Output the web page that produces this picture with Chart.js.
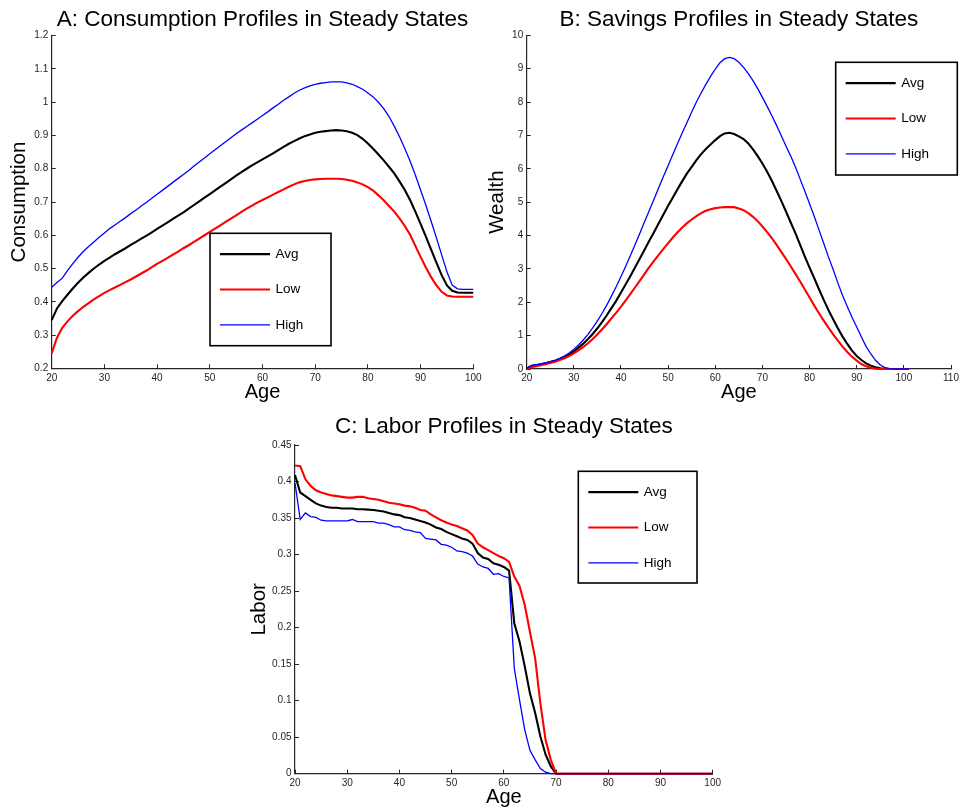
<!DOCTYPE html>
<html>
<head>
<meta charset="utf-8">
<script src="https://cdn.jsdelivr.net/npm/chart.js@4.4.1/dist/chart.umd.min.js"></script>
<style>
  html, body { margin: 0; padding: 0; background: #fff; }
  body { width: 962px; height: 812px; position: relative; overflow: hidden; }
  canvas { position: absolute; }
  #cA { left: 0px; top: 0px; }
  #cB { left: 480px; top: 0px; }
  #cC { left: 240px; top: 405px; }
</style>
</head>
<body>
<canvas id="cA" width="490" height="405"></canvas>
<canvas id="cB" width="482" height="405"></canvas>
<canvas id="cC" width="500" height="407"></canvas>
<script>
// ---------- data ----------
const seriesLabels = ['Avg', 'Low', 'High'];

const agesAC = [20,21,22,23,24,25,26,27,28,29,30,31,32,33,34,35,36,37,38,39,40,41,42,43,44,45,46,47,48,49,50,51,52,53,54,55,56,57,58,59,60,61,62,63,64,65,66,67,68,69,70,71,72,73,74,75,76,77,78,79,80,81,82,83,84,85,86,87,88,89,90,91,92,93,94,95,96,97,98,99,100];
const agesB = [20,21,22,23,24,25,26,27,28,29,30,31,32,33,34,35,36,37,38,39,40,41,42,43,44,45,46,47,48,49,50,51,52,53,54,55,56,57,58,59,60,61,62,63,64,65,66,67,68,69,70,71,72,73,74,75,76,77,78,79,80,81,82,83,84,85,86,87,88,89,90,91,92,93,94,95,96,97,98,99,100,101];

// Panel A: consumption
const consAvg = [
  0.345,0.380,0.402,0.421,0.440,0.457,0.473,0.487,0.500,0.512,
  0.523,0.533,0.543,0.552,0.561,0.571,0.580,0.590,0.599,0.609,
  0.619,0.629,0.639,0.649,0.659,0.669,0.680,0.691,0.702,0.713,
  0.724,0.735,0.746,0.757,0.768,0.779,0.790,0.800,0.810,0.819,
  0.828,0.837,0.846,0.856,0.866,0.875,0.883,0.891,0.898,0.903,
  0.908,0.911,0.913,0.915,0.916,0.915,0.913,0.908,0.901,0.890,
  0.876,0.860,0.843,0.825,0.806,0.786,0.762,0.736,0.706,0.671,
  0.634,0.596,0.557,0.518,0.480,0.449,0.433,0.428,0.427,0.427,0.427];
const consLow = [
  0.245,0.292,0.322,0.341,0.358,0.372,0.385,0.396,0.407,0.417,
  0.427,0.435,0.443,0.451,0.459,0.467,0.476,0.485,0.494,0.504,
  0.514,0.523,0.532,0.542,0.551,0.561,0.570,0.580,0.590,0.600,
  0.610,0.620,0.630,0.640,0.650,0.660,0.670,0.680,0.689,0.698,
  0.706,0.714,0.722,0.730,0.738,0.746,0.753,0.759,0.763,0.766,
  0.768,0.769,0.770,0.770,0.770,0.769,0.767,0.764,0.759,0.753,
  0.745,0.734,0.720,0.705,0.688,0.671,0.651,0.628,0.602,0.568,
  0.535,0.503,0.474,0.449,0.430,0.419,0.416,0.415,0.415,0.415,0.415];
const consHigh = [
  0.444,0.458,0.471,0.494,0.515,0.534,0.551,0.566,0.580,0.594,
  0.607,0.620,0.631,0.642,0.653,0.665,0.676,0.688,0.699,0.711,
  0.723,0.735,0.747,0.759,0.771,0.783,0.795,0.808,0.820,0.832,
  0.845,0.857,0.869,0.881,0.893,0.905,0.916,0.927,0.938,0.949,
  0.960,0.971,0.983,0.994,1.006,1.016,1.027,1.036,1.043,1.049,
  1.054,1.057,1.059,1.061,1.061,1.061,1.058,1.054,1.047,1.039,
  1.028,1.016,1.000,0.981,0.957,0.928,0.896,0.861,0.823,0.781,
  0.736,0.690,0.642,0.592,0.541,0.490,0.450,0.439,0.437,0.437,0.437];

// Panel B: wealth
const wealthAvg = [
  0.02,0.09,0.11,0.14,0.17,0.21,0.25,0.30,0.36,0.43,
  0.53,0.64,0.76,0.90,1.05,1.22,1.41,1.61,1.83,2.05,
  2.29,2.54,2.79,3.05,3.31,3.57,3.84,4.10,4.37,4.63,
  4.89,5.14,5.39,5.63,5.86,6.06,6.26,6.44,6.59,6.73,
  6.86,6.98,7.06,7.08,7.04,6.97,6.89,6.76,6.58,6.38,
  6.16,5.91,5.64,5.34,5.04,4.72,4.39,4.07,3.72,3.37,
  3.04,2.72,2.39,2.07,1.77,1.49,1.22,0.97,0.75,0.55,
  0.39,0.27,0.17,0.10,0.05,0.02,0.01,0,0,0,0,0];
const wealthLow = [
  0.00,0.05,0.08,0.11,0.14,0.18,0.22,0.27,0.32,0.39,
  0.47,0.56,0.66,0.77,0.90,1.04,1.19,1.35,1.52,1.69,
  1.87,2.06,2.25,2.45,2.65,2.85,3.05,3.24,3.42,3.60,
  3.77,3.94,4.10,4.24,4.37,4.48,4.58,4.67,4.74,4.79,
  4.82,4.84,4.85,4.85,4.85,4.81,4.76,4.67,4.56,4.43,
  4.27,4.10,3.92,3.72,3.51,3.30,3.08,2.85,2.62,2.38,
  2.14,1.90,1.67,1.45,1.24,1.04,0.85,0.67,0.51,0.37,
  0.25,0.15,0.08,0.04,0.01,0,0,0,0,0,0,0];
const wealthHigh = [
  0.02,0.11,0.13,0.15,0.18,0.22,0.26,0.32,0.39,0.48,
  0.59,0.72,0.87,1.04,1.23,1.44,1.67,1.92,2.19,2.47,
  2.77,3.08,3.40,3.73,4.07,4.41,4.75,5.09,5.43,5.77,
  6.10,6.43,6.76,7.08,7.39,7.70,8.00,8.27,8.53,8.77,
  8.99,9.18,9.30,9.34,9.30,9.19,9.04,8.85,8.64,8.40,
  8.14,7.87,7.59,7.30,6.99,6.68,6.38,6.05,5.69,5.33,
  4.95,4.57,4.17,3.77,3.36,2.98,2.58,2.20,1.87,1.55,
  1.26,0.96,0.67,0.45,0.26,0.12,0.04,0.01,0,0,0,0];

// Panel C: labor
const laborAvg = [
  0.409,0.385,0.380,0.375,0.370,0.367,0.365,0.364,0.364,0.363,
  0.363,0.363,0.362,0.362,0.3615,0.361,0.360,0.359,0.357,0.355,
  0.354,0.351,0.350,0.348,0.346,0.344,0.341,0.337,0.335,0.331,
  0.328,0.325,0.322,0.320,0.315,0.302,0.296,0.294,0.288,0.286,
  0.283,0.278,0.206,0.181,0.147,0.110,0.083,0.051,0.026,0.010,
  0,0,0,0,0,0,0,0,0,0,
  0,0,0,0,0,0,0,0,0,0,
  0,0,0,0,0,0,0,0,0,0,0];
const laborLow = [
  0.422,0.421,0.403,0.394,0.388,0.385,0.383,0.381,0.380,0.379,
  0.378,0.378,0.379,0.379,0.377,0.376,0.375,0.373,0.371,0.370,
  0.369,0.367,0.366,0.364,0.361,0.360,0.355,0.351,0.347,0.344,
  0.341,0.339,0.336,0.333,0.327,0.315,0.310,0.306,0.302,0.298,
  0.295,0.290,0.270,0.257,0.231,0.194,0.158,0.096,0.046,0.019,
  0,0,0,0,0,0,0,0,0,0,
  0,0,0,0,0,0,0,0,0,0,
  0,0,0,0,0,0,0,0,0,0,0];
const laborHigh = [
  0.398,0.348,0.357,0.352,0.351,0.347,0.346,0.346,0.346,0.346,
  0.346,0.348,0.345,0.345,0.345,0.345,0.343,0.343,0.341,0.338,
  0.338,0.334,0.333,0.331,0.330,0.322,0.321,0.320,0.314,0.313,
  0.310,0.305,0.304,0.302,0.298,0.287,0.283,0.281,0.273,0.274,
  0.270,0.268,0.144,0.101,0.060,0.032,0.019,0.007,0.002,0,
  0,0,0,0,0,0,0,0,0,0,
  0,0,0,0,0,0,0,0,0,0,
  0,0,0,0,0,0,0,0,0,0,0];

const xTicksAC = [20, 100, 10];   // min, max, step
const xTicksB = [20, 110, 10];
const yTicksA = [0.2, 1.2, 0.1];
const yTicksB = [0, 10, 1];
const yTicksC = [0, 0.45, 0.05];

// ---------- styling ----------
const FONT = '"Liberation Sans", Arial, Helvetica, sans-serif';
Chart.defaults.font.family = FONT;
const seriesColors = ['#000000', '#ff0000', '#0000ff'];
const seriesWidths = [2.1, 2.1, 1.3];
const seriesOrder = [2, 1, 0];
const AXIS = '#262626';

const boxLegend = {
  id: 'boxLegend',
  afterDraw(chart, args, o) {
    const ctx = chart.ctx;
    ctx.save();
    ctx.fillStyle = '#ffffff';
    ctx.fillRect(o.x, o.y, o.w, o.h);
    ctx.lineWidth = 1.6;
    ctx.strokeStyle = '#000000';
    ctx.strokeRect(o.x, o.y, o.w, o.h);
    chart.data.datasets.forEach((ds, i) => {
      const y = o.y + o.rows[i];
      ctx.beginPath();
      ctx.moveTo(o.x + 10, y);
      ctx.lineTo(o.x + 60, y);
      ctx.strokeStyle = ds.borderColor;
      ctx.lineWidth = ds.borderWidth;
      ctx.stroke();
      ctx.fillStyle = '#000000';
      ctx.font = '13.5px ' + FONT;
      ctx.textBaseline = 'middle';
      ctx.textAlign = 'left';
      ctx.fillText(ds.label, o.x + 65.5, y);
    });
    ctx.restore();
  }
};

const fmt = v => String(parseFloat(Number(v).toFixed(2)));

function makePanel(id, p) {
  const datasets = p.series.map((vals, i) => ({
    label: seriesLabels[i],
    data: p.xs.map((x, k) => ({ x: x, y: vals[k] })),
    borderColor: seriesColors[i],
    backgroundColor: seriesColors[i],
    borderWidth: seriesWidths[i],
    pointRadius: 0,
    tension: 0,
    fill: false,
    order: seriesOrder[i],
    clip: 4
  }));
  return new Chart(document.getElementById(id), {
    type: 'line',
    data: { datasets },
    plugins: [boxLegend],
    options: {
      responsive: false,
      animation: false,
      devicePixelRatio: 1,
      layout: { padding: { left: 0, right: p.padRight, top: 0, bottom: 0 } },
      plugins: {
        legend: { display: false },
        tooltip: { enabled: false },
        title: {
          display: true, text: p.title, fullSize: false, color: '#000',
          font: { size: 22.5, weight: 'normal', lineHeight: 1.2 },
          padding: { top: p.titlePad[0], bottom: p.titlePad[1] }
        },
        boxLegend: p.legend
      },
      scales: {
        x: {
          type: 'linear', position: 'bottom',
          min: p.xt[0], max: p.xt[1],
          ticks: { stepSize: p.xt[2], autoSkip: false, maxRotation: 0, padding: 7.5,
                   color: AXIS, font: { size: 10 }, callback: fmt },
          grid: { drawOnChartArea: false, tickLength: -4, color: AXIS, lineWidth: 1 },
          border: { color: AXIS, width: 1.2 },
          title: { display: true, text: 'Age', color: '#000', font: { size: 20 },
                   padding: { top: 0, bottom: p.xTitlePad } },
          afterFit(s) { s.height = p.xH; s.paddingLeft = 0; s.paddingRight = 0; }
        },
        y: {
          type: 'linear', position: 'left',
          min: p.yt[0], max: p.yt[1],
          ticks: { stepSize: p.yt[2], autoSkip: false, padding: 7.5,
                   color: AXIS, font: { size: 10 }, callback: fmt },
          grid: { drawOnChartArea: false, tickLength: -4, color: AXIS, lineWidth: 1 },
          border: { color: AXIS, width: 1.2 },
          title: { display: true, text: p.yTitle, color: '#000', font: { size: 20.5 },
                   padding: { top: p.yTitlePad, bottom: 0 } },
          afterFit(s) { s.width = p.yW; s.paddingTop = 0; s.paddingBottom = 0; }
        }
      }
    }
  });
}

makePanel('cA', {
  xs: agesAC, series: [consAvg, consLow, consHigh],
  xt: xTicksAC, yt: yTicksA,
  title: 'A: Consumption Profiles in Steady States', yTitle: 'Consumption',
  padRight: 16.7, yW: 51.7, xH: 36.7, titlePad: [6.2, 2.5], xTitlePad: 1, yTitlePad: 7,
  legend: { x: 210, y: 233.3, w: 121, h: 112.4, rows: [20.8, 56.2, 91.6] }
});
makePanel('cB', {
  xs: agesB, series: [wealthAvg, wealthLow, wealthHigh],
  xt: xTicksB, yt: yTicksB,
  title: 'B: Savings Profiles in Steady States', yTitle: 'Wealth',
  padRight: 11, yW: 46.7, xH: 36, titlePad: [6.2, 2.1], xTitlePad: 1, yTitlePad: 5.1,
  legend: { x: 355.7, y: 62.3, w: 121.6, h: 112.7, rows: [20.8, 56.2, 91.6] }
});
makePanel('cC', {
  xs: agesAC, series: [laborAvg, laborLow, laborHigh],
  xt: xTicksAC, yt: yTicksC,
  title: 'C: Labor Profiles in Steady States', yTitle: 'Labor',
  padRight: 27.3, yW: 55, xH: 38.3, titlePad: [8.7, 4.3], xTitlePad: 3, yTitlePad: 7.1,
  legend: { x: 338.3, y: 66.3, w: 118.7, h: 111.7, rows: [20.8, 56.2, 91.6] }
});
</script>
</body>
</html>
